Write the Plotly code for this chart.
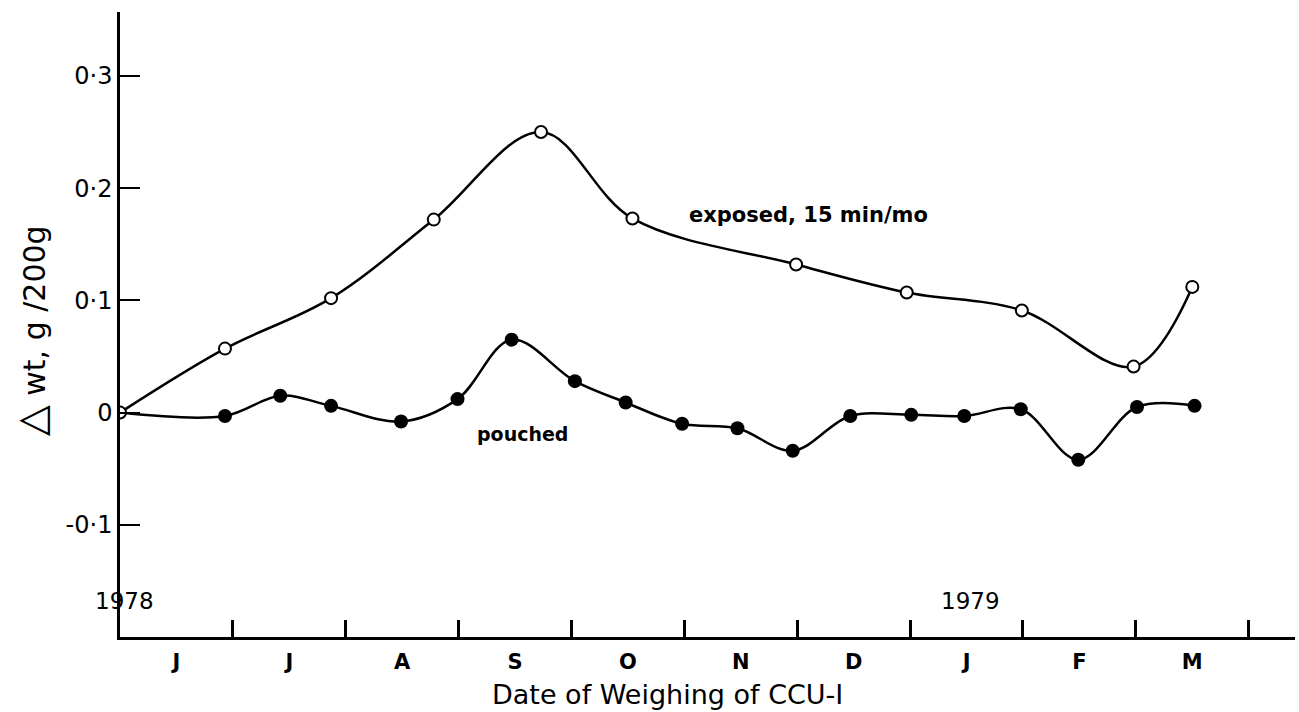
import plotly.graph_objects as go

# x in months since start of June 1978; y = delta wt, g/200 g
exposed_x = [0.0, 0.93, 1.87, 2.78, 3.73, 4.54, 5.99, 6.97, 7.99, 8.98, 9.50]
exposed_y = [0.0, 0.057, 0.102, 0.172, 0.250, 0.173, 0.132, 0.107, 0.091, 0.041, 0.112]

pouched_x = [0.0, 0.93, 1.42, 1.87, 2.49, 2.99, 3.47, 4.03, 4.48, 4.98, 5.47, 5.96,
             6.47, 7.01, 7.48, 7.98, 8.49, 9.01, 9.52]
pouched_y = [0.0, -0.003, 0.015, 0.006, -0.008, 0.012, 0.065, 0.028, 0.009, -0.010,
             -0.014, -0.034, -0.003, -0.002, -0.003, 0.003, -0.042, 0.005, 0.006]

month_pos = [0.5, 1.5, 2.5, 3.5, 4.5, 5.5, 6.5, 7.5, 8.5, 9.5]
month_labels = ["J", "J", "A", "S", "O", "N", "D", "J", "F", "M"]
month_bounds = [1, 2, 3, 4, 5, 6, 7, 8, 9, 10]
y_ticks = [-0.1, 0, 0.1, 0.2, 0.3]
y_ticklabels = ["-0·1", "0", "0·1", "0·2", "0·3"]

FONT = "DejaVu Sans"

fig = go.Figure()
fig.add_trace(go.Scatter(
    x=pouched_x[1:], y=pouched_y[1:], mode="markers",
    marker=dict(size=14, color="black"), showlegend=False, hoverinfo="skip"))
fig.add_trace(go.Scatter(
    x=pouched_x, y=pouched_y, mode="lines",
    line=dict(color="black", width=2.5, shape="spline", smoothing=1.0),
    showlegend=False))
fig.add_trace(go.Scatter(
    x=exposed_x, y=exposed_y, mode="lines+markers",
    line=dict(color="black", width=2.5, shape="spline", smoothing=1.0),
    marker=dict(size=12, color="white", line=dict(color="black", width=2)),
    showlegend=False))

fig.update_layout(
    width=1299, height=712,
    margin=dict(l=120, r=4, t=12, b=75),
    plot_bgcolor="white", paper_bgcolor="white",
    font=dict(family=FONT, color="black"),
    xaxis=dict(
        range=[0, 10.41], showgrid=False, zeroline=False,
        showline=True, linecolor="black", linewidth=2.5,
        tickvals=month_pos, ticktext=["<b>%s</b>" % m for m in month_labels], ticks="",
        tickfont=dict(size=21, family=FONT), ticklabelstandoff=4,
        minor=dict(tickvals=month_bounds, ticks="inside", ticklen=17,
                   tickwidth=2.5, tickcolor="black"),
    ),
    yaxis=dict(
        range=[-0.2, 0.357], showgrid=False, zeroline=False,
        showline=True, linecolor="black", linewidth=2.5,
        tickvals=y_ticks, ticktext=y_ticklabels, ticks="inside",
        ticklen=20, tickwidth=2, tickcolor="black",
        tickfont=dict(size=24, family=FONT),
    ),
)


def px2paper(px, py):
    return (px - 120) / 1175, (637 - py) / 625


def label(text, px, py, size, angle=0):
    ax, ay = px2paper(px, py)
    fig.add_annotation(text=text, x=ax, y=ay, xref="paper", yref="paper",
                       xanchor="center", yanchor="middle", showarrow=False,
                       textangle=angle, font=dict(size=size, family=FONT))


label("<b>exposed, 15 min/mo</b>", 808, 215, 21)
label("<b>pouched</b>", 522, 434, 19)
label("1978", 124, 601, 23)
label("1979", 970, 601, 23)
label("Date of Weighing of CCU-I", 667, 694, 27)
label("<span style='font-size:40px'>△</span> wt, g /200g", 31, 331, 30, angle=-90)

fig.write_html("out.html")
